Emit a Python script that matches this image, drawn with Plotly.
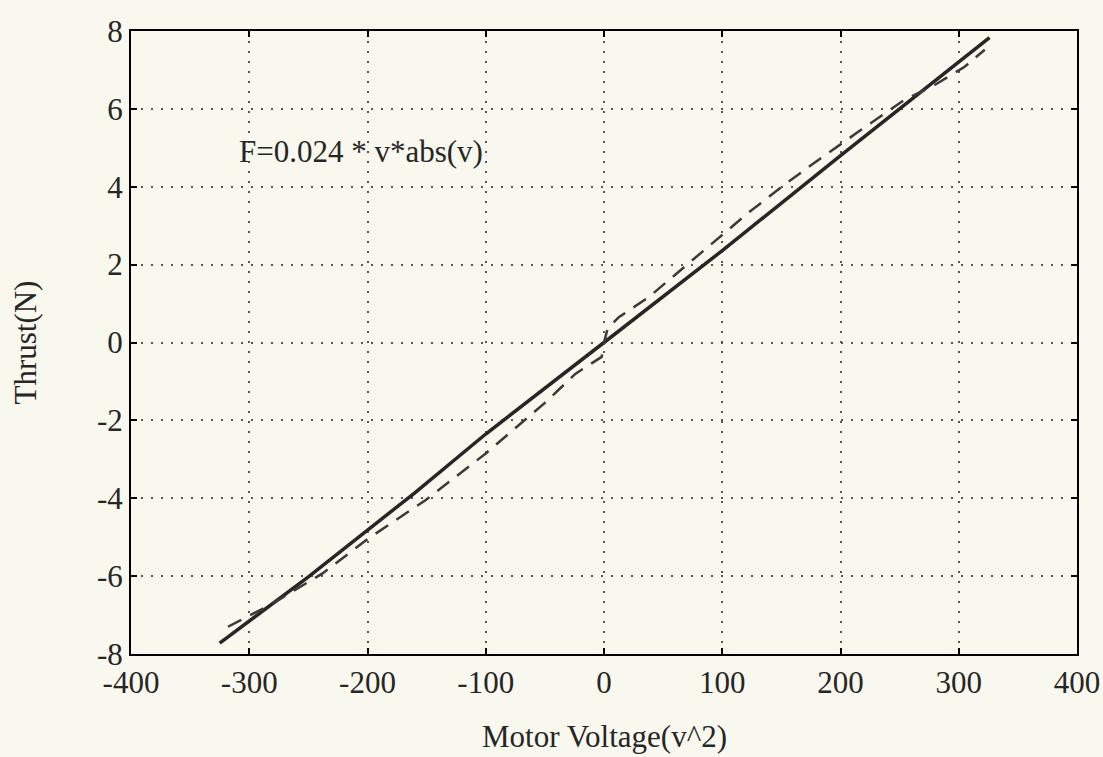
import plotly.graph_objects as go

# x = signed square of motor voltage, y = thrust (N)
fit_v = [-325, -250, -160, -100, 0, 100, 200, 326]
fit_f = [-7.72, -6.02, -3.86, -2.35, 0.0, 2.36, 4.80, 7.83]

meas_v = [-318, -280, -238, -200, -151, -100, -50, -24, -2, 0,
          3, 12.5, 38, 80, 122, 156, 175, 215, 254, 280, 305, 322]
meas_f = [-7.30, -6.70, -5.93, -5.05, -4.05, -2.85, -1.55, -0.80, -0.37, 0.0,
          0.35, 0.65, 1.17, 2.25, 3.33, 4.13, 4.55, 5.41, 6.23, 6.62, 7.08, 7.52]

x_ticks = [-400, -300, -200, -100, 0, 100, 200, 300, 400]
x_tick_text = ["-400", "-300", "-200", "-100", "0", "100", "200", "300", "400"]
y_ticks = [-8, -6, -4, -2, 0, 2, 4, 6, 8]
y_tick_text = ["-8", "-6", "-4", "-2", "0", "2", "4", "6", "8"]

bg = "#f8f8ee"
ink = "#262626"
font = "Liberation Serif"

fig = go.Figure()
fig.add_trace(go.Scatter(x=fit_v, y=fit_f, mode="lines",
                         line=dict(color=ink, width=3.5)))
fig.add_trace(go.Scatter(x=meas_v, y=meas_f, mode="lines",
                         line=dict(color="#3a3a3a", width=2.5, dash="15px,10px")))

axis_common = dict(
    showline=True, linecolor="black", linewidth=2, mirror="ticks",
    ticks="inside", ticklen=6, tickcolor="black", tickwidth=1.5,
    showgrid=True, gridcolor="#555555", gridwidth=2, griddash="2px,8px",
    zeroline=False, automargin=False,
    tickfont=dict(family=font, size=31, color=ink),
)

fig.update_layout(
    width=1103, height=757,
    paper_bgcolor=bg, plot_bgcolor=bg,
    margin=dict(l=131, r=26, t=31, b=103),
    showlegend=False,
    xaxis=dict(range=[-400, 400], tickvals=x_ticks, ticktext=x_tick_text, **axis_common),
    yaxis=dict(range=[-8, 8], tickvals=y_ticks, ticktext=y_tick_text, **axis_common),
    annotations=[
        dict(text="Motor Voltage(v^2)", xref="paper", yref="paper", x=0.5, y=-0.133,
             xanchor="center", yanchor="middle", showarrow=False,
             font=dict(family=font, size=31, color=ink)),
        dict(text="Thrust(N)", xref="paper", yref="paper", x=-0.112, y=0.5,
             xanchor="center", yanchor="middle", textangle=-90, showarrow=False,
             font=dict(family=font, size=31, color=ink)),
        dict(text="F=0.024 * v*abs(v)", xref="x", yref="y", x=-310, y=4.9,
             xanchor="left", yanchor="middle", showarrow=False,
             font=dict(family=font, size=31, color=ink)),
    ],
)

fig.write_html("out.html", config={"displayModeBar": False},
               post_script="document.body.style.margin='0px';"
                           "document.body.style.overflow='hidden';"
                           "document.body.style.background='#f8f8ee';")
